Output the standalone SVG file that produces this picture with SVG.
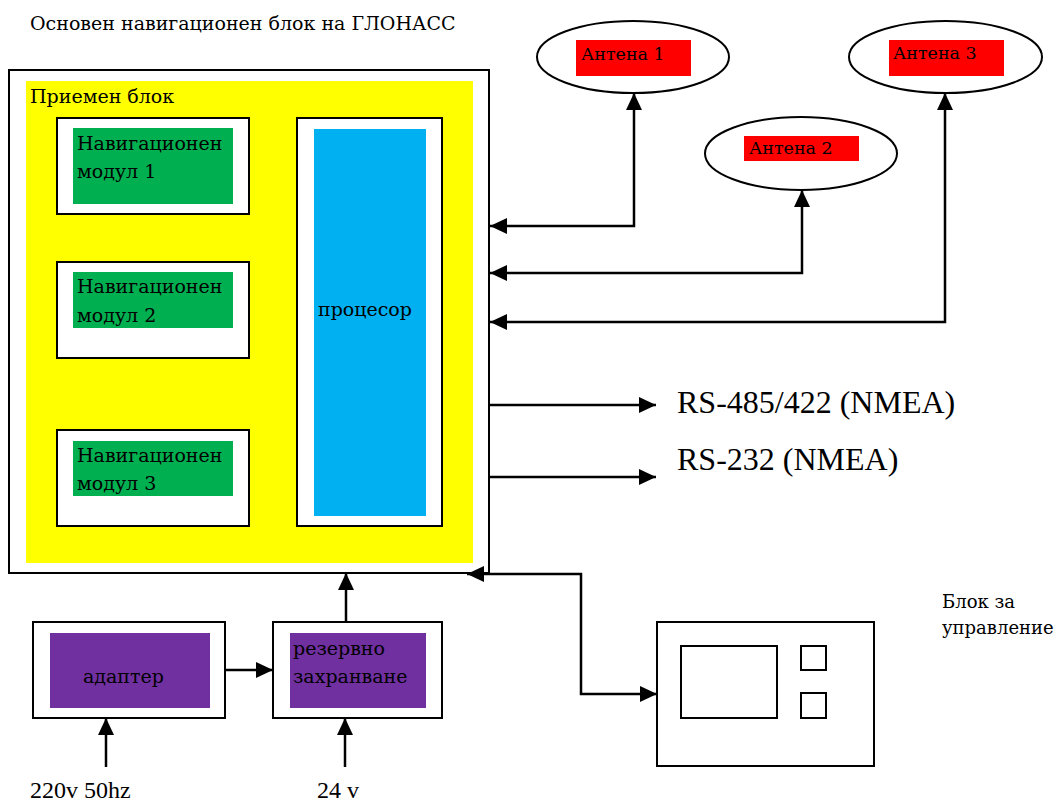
<svg xmlns="http://www.w3.org/2000/svg" width="1062" height="803" viewBox="0 0 1062 803">
<defs>
<style>
text{font-family:"Liberation Serif","Times New Roman",serif;fill:#000;font-size:24px}
.cy{font-family:"DejaVu Serif","Liberation Serif",serif;font-size:19px}
.box{fill:#fff;stroke:#000;stroke-width:2}
.ant{fill:#fff;stroke:#000;stroke-width:2}
.con{fill:none;stroke:#000;stroke-width:2.5}
.green{fill:#00b050}
.red{fill:#ff0000}
.purple{fill:#7030a0}
.sm{font-size:17.5px}
.ctl{font-size:18px}
.big{font-size:32px}
</style>
<marker id="ah" markerUnits="userSpaceOnUse" markerWidth="18" markerHeight="16" viewBox="0 0 18 16" refX="17" refY="8" orient="auto-start-reverse">
<path d="M0,0 L17,8 L0,16 Z" fill="#000"/>
</marker>
</defs>
<rect width="1062" height="803" fill="#fff"/>
<text class="cy" x="30" y="30">Основен навигационен блок на ГЛОНАСС</text>

<g id="main-block">
<rect class="box" x="9" y="70" width="480" height="503" stroke-width="1.5"/>
<rect x="26" y="81" width="447" height="482" fill="#ffff00"/>
<text class="cy" x="30" y="103">Приемен блок</text>
</g>
<g id="nav1">
<rect class="box" x="57" y="118" width="192" height="96"/>
<rect class="green" x="73" y="128" width="160" height="76"/>
<text class="cy" x="77" y="150">Навигационен</text>
<text class="cy" x="77" y="178">модул 1</text>
</g>
<g id="nav2">
<rect class="box" x="57" y="262" width="192" height="96"/>
<rect class="green" x="73" y="272" width="160" height="56"/>
<text class="cy" x="77" y="293">Навигационен</text>
<text class="cy" x="77" y="322">модул 2</text>
</g>
<g id="nav3">
<rect class="box" x="57" y="430" width="192" height="96"/>
<rect class="green" x="73" y="441" width="160" height="55"/>
<text class="cy" x="77" y="462">Навигационен</text>
<text class="cy" x="77" y="490">модул 3</text>
</g>
<g id="processor">
<rect class="box" x="297" y="118" width="145" height="408"/>
<rect x="314" y="129" width="112" height="387" fill="#00b0f0"/>
<text class="cy" x="318" y="316">процесор</text>
</g>

<g id="antenna1">
<ellipse class="ant" cx="633" cy="57" rx="96" ry="36"/>
<rect class="red" x="576" y="40" width="115" height="36"/>
<text class="cy sm" x="581" y="60">Антена 1</text>
</g>
<g id="antenna2">
<ellipse class="ant" cx="801" cy="153.5" rx="96" ry="36.5"/>
<rect class="red" x="744" y="136" width="115" height="25"/>
<text class="cy sm" x="749" y="154">Антена 2</text>
</g>
<g id="antenna3">
<ellipse class="ant" cx="945.5" cy="57" rx="96.5" ry="36"/>
<rect class="red" x="889" y="40" width="115" height="36"/>
<text class="cy sm" x="893" y="59">Антена 3</text>
</g>

<g id="adapter">
<rect class="box" x="33" y="622" width="192" height="96"/>
<rect class="purple" x="50" y="633" width="160" height="75"/>
<text class="cy" x="83" y="683">адаптер</text>
</g>
<g id="backup">
<rect class="box" x="273" y="622" width="169" height="96"/>
<rect class="purple" x="290" y="633" width="136" height="75"/>
<text class="cy" x="293" y="655">резервно</text>
<text class="cy" x="293" y="683">захранване</text>
</g>
<g id="control">
<rect class="box" x="657" y="622" width="217" height="144"/>
<rect class="box" x="681" y="646" width="96" height="72"/>
<rect class="box" x="801" y="646" width="25" height="24"/>
<rect class="box" x="801" y="693" width="25" height="25"/>
<text class="cy ctl" x="942" y="608">Блок за</text>
<text class="cy ctl" x="942" y="634">управление</text>
</g>

<g id="labels">
<text class="big" x="677" y="413">RS-485/422 (NMEA)</text>
<text class="big" x="677" y="470">RS-232 (NMEA)</text>
<text x="30" y="798">220v 50hz</text>
<text x="317" y="798">24 v</text>
</g>

<g id="connectors">
<path class="con" d="M490,226 H634 V93" marker-start="url(#ah)" marker-end="url(#ah)"/>
<path class="con" d="M490,273 H802 V190" marker-start="url(#ah)" marker-end="url(#ah)"/>
<path class="con" d="M490,322 H945 V93" marker-start="url(#ah)" marker-end="url(#ah)"/>
<path class="con" d="M490,405 H656" marker-end="url(#ah)"/>
<path class="con" d="M490,477 H656" marker-end="url(#ah)"/>
<path class="con" d="M467,574 H581 V694 H657" marker-start="url(#ah)" marker-end="url(#ah)"/>
<path class="con" d="M225,670 H273" marker-end="url(#ah)"/>
<path class="con" d="M346,622 V573" marker-end="url(#ah)"/>
<path class="con" d="M106,767 V718" marker-end="url(#ah)"/>
<path class="con" d="M345,767 V718" marker-end="url(#ah)"/>
</g>
</svg>
